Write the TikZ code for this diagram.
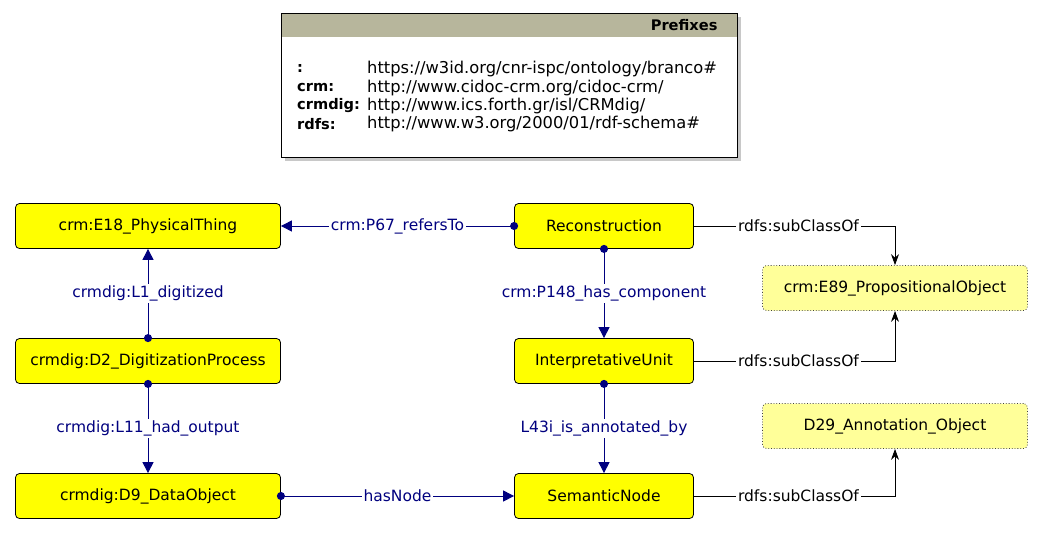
\documentclass[tikz,border=0pt]{standalone}
\usepackage{fontspec}
\setmainfont{DejaVu Sans}
\usepackage{tikz}
\usetikzlibrary{arrows.meta,positioning}
\definecolor{ClassYellow}{HTML}{FFFF00}
\definecolor{ExtYellow}{HTML}{FFFF99}
\definecolor{PropBlue}{HTML}{00007F}
\definecolor{HeadTan}{HTML}{B7B69C}
\definecolor{ShadowGrey}{HTML}{C8C8C8}

\tikzset{
  lblfont/.style={font=\fontsize{15.5}{19}\selectfont},
  pfxfont/.style={font=\fontsize{16.3}{20}\selectfont},
  pfxbold/.style={font=\fontsize{14.6}{18}\selectfont\bfseries},
  cls/.style={draw=black, fill=ClassYellow, rounded corners=4pt, line width=0.8pt,
    minimum width=265pt, minimum height=45pt, inner sep=0pt, lblfont},
  narrowcls/.style={cls, minimum width=179pt},
  extcls/.style={cls, fill=ExtYellow, draw=black!75, dotted},
  prop/.style={PropBlue, line width=1pt, shorten <=-4pt,
    {Circle[length=8pt]}-{Triangle[length=11pt,width=11pt]}},
  proplbl/.style={fill=white, text=PropBlue, inner sep=2pt, lblfont},
  sub/.style={black, line width=0.9pt, -{Stealth[length=11pt,width=8pt]}},
  sublbl/.style={fill=white, text=black, inner sep=2pt, lblfont}
}

\begin{document}
\begin{tikzpicture}[x=1pt,y=-1pt]
  \useasboundingbox (0,0) rectangle (1043,533);

  % Prefix box
  \fill[ShadowGrey] (285,17) rectangle (741,161);
  \fill[white] (281,13) rectangle (737,157);
  \fill[HeadTan] (281,13) rectangle (737,37);
  \draw[black, line width=1pt] (281,13) rectangle (737,157);
  \node[anchor=east, pfxbold] (pfxtitle) at (721,25) {Prefixes};
  \foreach \p/\u/\y [count=\i] in {:/https:\slash\slash w3id.org\slash cnr-ispc\slash ontology\slash branco\#/69,
      crm:/http:\slash\slash www.cidoc-crm.org\slash cidoc-crm\slash/88,
      crmdig:/http:\slash\slash www.ics.forth.gr\slash isl\slash CRMdig\slash/106,
      rdfs:/http:\slash\slash www.w3.org\slash 2000\slash 01\slash rdf-schema\#/124} {
    \node[anchor=west, inner sep=0pt, pfxbold] (pfx\i) at (297,\y) {\p};
    \node[anchor=west, inner sep=0pt, pfxfont] (uri\i) at (367,\y) {\u};
  }

  % Classes
  \node[cls] (physthing) at (148,226) {crm:E18\_PhysicalThing};
  \node[cls] (digproc) at (148,361) {crmdig:D2\_DigitizationProcess};
  \node[cls] (dataobj) at (148,496) {crmdig:D9\_DataObject};
  \node[narrowcls] (recon) at (604,226) {Reconstruction};
  \node[narrowcls] (interp) at (604,361) {InterpretativeUnit};
  \node[narrowcls] (semnode) at (604,496) {SemanticNode};
  \node[extcls] (propobj) at (895,288) {crm:E89\_PropositionalObject};
  \node[extcls] (annobj) at (895,426) {D29\_Annotation\_Object};

  % Properties
  \draw[prop] (recon.west) -- node[proplbl] {crm:P67\_refersTo} (physthing.east);
  \draw[prop] (digproc.north) -- node[proplbl] {crmdig:L1\_digitized} (physthing.south);
  \draw[prop] (digproc.south) -- node[proplbl] {crmdig:L11\_had\_output} (dataobj.north);
  \draw[prop] (recon.south) -- node[proplbl] {crm:P148\_has\_component} (interp.north);
  \draw[prop] (interp.south) -- node[proplbl] {L43i\_is\_annotated\_by} (semnode.north);
  \draw[prop] (dataobj.east) -- node[proplbl] {hasNode} (semnode.west);

  % Subclass links
  \draw[sub] (recon.east) -| node[sublbl, pos=0.26] {rdfs:subClassOf} (propobj.north);
  \draw[sub] (interp.east) -| node[sublbl, pos=0.26] {rdfs:subClassOf} (propobj.south);
  \draw[sub] (semnode.east) -| node[sublbl, pos=0.26] {rdfs:subClassOf} (annobj.south);
\end{tikzpicture}
\end{document}
